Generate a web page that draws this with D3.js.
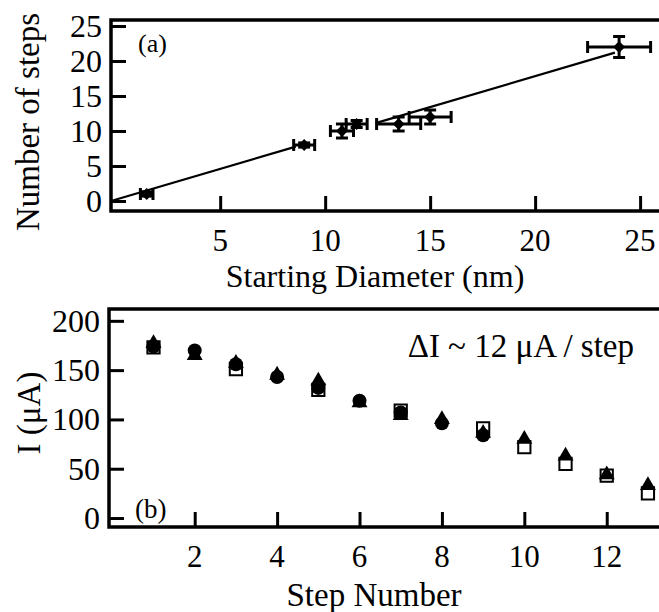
<!DOCTYPE html>
<html>
<head>
<meta charset="utf-8">
<script src="https://cdn.jsdelivr.net/npm/d3@7"></script>
<style>
  body { margin: 0; background: #fff; }
  svg { display: block; }
  text { font-family: "Liberation Serif", "Times New Roman", serif; fill: #000; }
</style>
</head>
<body>
<div id="container"></div>
<script>
const width = 659;
const height = 612;

// panel (a): number of steps vs starting diameter
const diameters   = [1.5, 9.0, 10.8, 11.5, 13.5, 15.0, 24.0];
const steps       = [1, 8, 10, 11, 11, 12, 22];
const diameterErr = [0.3, 0.5, 0.55, 0.5, 1.05, 1.0, 1.5];
const stepsErr    = [0.3, 0.3, 1.0, 0.5, 1.0, 1.0, 1.5];
// linear fit, drawn in two pieces as in the figure
const fitSlope = 0.883;
const fitIntercept = 0.18;
const fitPieces = [[-0.2, 8.6], [12.4, 23.8]];
const ticksA_x = [5, 10, 15, 20, 25];
const ticksA_y = [0, 5, 10, 15, 20, 25];

// panel (b): current vs step number, three runs
const stepNumbers = [1, 2, 3, 4, 5, 6, 7, 8, 9, 10, 11, 12, 13];
const runSquares   = [173, null, 151, null, 130, null, 109, null, 91, 72, 55, 43, 25];
const runCircles   = [174, 170, 156, 143, 132, 119, 107, 96, 84, null, null, null, null];
const runTriangles = [177, 165, 157, 145, 139, 117, 104, 100, 86, 80, 63, 44, 33];
const ticksB_x = [2, 4, 6, 8, 10, 12];
const ticksB_y = [0, 50, 100, 150, 200];

const svg = d3.select("#container")
  .append("svg")
  .attr("width", width)
  .attr("height", height);

// scales
const xA = d3.scaleLinear().domain([-0.2, 25.9]).range([111, 659]);
const yA = d3.scaleLinear().domain([-1.43, 25.86]).range([211, 20]);
const xB = d3.scaleLinear().domain([-0.08, 13.22]).range([109, 657]);
const yB = d3.scaleLinear().domain([-9.1, 212]).range([527, 309]);

const tickLen = 15;

function drawFrame(x, y, xt, yt, labelY) {
  const g = svg.append("g");
  const [x0, x1] = x.range();
  const [y0, y1] = y.range();
  // x axis ticks pointing inward
  g.append("g")
    .attr("transform", "translate(0," + y0 + ")")
    .call(d3.axisBottom(x).tickValues(xt).tickSize(-tickLen).tickPadding(0).tickFormat(""))
    .call(a => a.select(".domain").remove())
    .selectAll("line").attr("stroke-width", 3);
  g.selectAll(".xlab")
    .data(xt)
    .enter()
    .append("text")
    .attr("x", d => x(d))
    .attr("y", labelY)
    .attr("text-anchor", "middle")
    .style("font-size", "31px")
    .text(d => d);
  // y axis
  g.append("g")
    .attr("transform", "translate(" + x0 + ",0)")
    .call(d3.axisLeft(y).tickValues(yt).tickSize(-tickLen).tickPadding(0).tickFormat(""))
    .call(a => a.select(".domain").remove())
    .selectAll("line").attr("stroke-width", 3);
  g.selectAll(".ylab")
    .data(yt)
    .enter()
    .append("text")
    .attr("x", x0 - 9)
    .attr("y", d => y(d))
    .attr("dy", "0.34em")
    .attr("text-anchor", "end")
    .style("font-size", "32px")
    .text(d => d);
  // box
  g.append("rect")
    .attr("x", x0)
    .attr("y", y1)
    .attr("width", x1 - x0 + 4)
    .attr("height", y0 - y1)
    .attr("fill", "none")
    .attr("stroke", "#000")
    .attr("stroke-width", 3.5);
}

// ---- panel (a)
drawFrame(xA, yA, ticksA_x, ticksA_y, 251);

const line = d3.line().x(d => xA(d)).y(d => yA(fitSlope * d + fitIntercept));
svg.selectAll(".fit")
  .data(fitPieces)
  .enter()
  .append("path")
  .attr("d", d => line(d))
  .attr("fill", "none")
  .attr("stroke", "#000")
  .attr("stroke-width", 2.2);

const ptsA = diameters.map((d, i) => ({x: d, y: steps[i], ex: diameterErr[i], ey: stepsErr[i]}));
const errA = svg.append("g").attr("stroke", "#000").attr("stroke-width", 3);
const capH = 6;
ptsA.forEach(p => {
  const cx = xA(p.x), cy = yA(p.y);
  const xl = xA(p.x - p.ex), xr = xA(p.x + p.ex);
  const yt = yA(p.y + p.ey), yb = yA(p.y - p.ey);
  errA.append("line").attr("x1", xl).attr("x2", xr).attr("y1", cy).attr("y2", cy);
  errA.append("line").attr("x1", xl).attr("x2", xl).attr("y1", cy - capH).attr("y2", cy + capH);
  errA.append("line").attr("x1", xr).attr("x2", xr).attr("y1", cy - capH).attr("y2", cy + capH);
  errA.append("line").attr("x1", cx).attr("x2", cx).attr("y1", yt).attr("y2", yb);
  errA.append("line").attr("x1", cx - capH).attr("x2", cx + capH).attr("y1", yt).attr("y2", yt);
  errA.append("line").attr("x1", cx - capH).attr("x2", cx + capH).attr("y1", yb).attr("y2", yb);
});
svg.selectAll(".diamond")
  .data(ptsA)
  .enter()
  .append("path")
  .attr("d", d3.symbol().type(d3.symbolSquare).size(70))
  .attr("transform", d => "translate(" + xA(d.x) + "," + yA(d.y) + ") rotate(45)")
  .attr("fill", "#000");

svg.append("text")
  .attr("x", 138).attr("y", 52)
  .style("font-size", "26px")
  .text("(a)");

svg.append("text")
  .attr("x", 375).attr("y", 287)
  .attr("text-anchor", "middle")
  .style("font-size", "32px")
  .text("Starting Diameter (nm)");

svg.append("text")
  .attr("transform", "translate(39,122) rotate(-90)")
  .attr("text-anchor", "middle")
  .style("font-size", "33px")
  .text("Number of steps");

// ---- panel (b)
drawFrame(xB, yB, ticksB_x, ticksB_y, 567);

function series(vals) {
  return stepNumbers.map((s, i) => ({x: s, y: vals[i]})).filter(d => d.y !== null);
}

svg.selectAll(".sq")
  .data(series(runSquares))
  .enter()
  .append("path")
  .attr("d", d3.symbol().type(d3.symbolSquare).size(150))
  .attr("transform", d => "translate(" + xB(d.x) + "," + yB(d.y) + ")")
  .attr("fill", "#fff")
  .attr("stroke", "#000")
  .attr("stroke-width", 2);

svg.selectAll(".circ")
  .data(series(runCircles))
  .enter()
  .append("circle")
  .attr("cx", d => xB(d.x))
  .attr("cy", d => yB(d.y))
  .attr("r", 7)
  .attr("fill", "#000");

svg.selectAll(".tri")
  .data(series(runTriangles))
  .enter()
  .append("path")
  .attr("d", d3.symbol().type(d3.symbolTriangle).size(110))
  .attr("transform", d => "translate(" + xB(d.x) + "," + yB(d.y) + ")")
  .attr("fill", "#000");

svg.append("text")
  .attr("x", 634).attr("y", 357)
  .attr("text-anchor", "end")
  .style("font-size", "33px")
  .text("ΔI ~ 12 μA / step");

svg.append("text")
  .attr("x", 135).attr("y", 518)
  .style("font-size", "27px")
  .text("(b)");

svg.append("text")
  .attr("x", 374).attr("y", 606)
  .attr("text-anchor", "middle")
  .style("font-size", "33px")
  .text("Step Number");

svg.append("text")
  .attr("transform", "translate(40,413) rotate(-90)")
  .attr("text-anchor", "middle")
  .style("font-size", "33px")
  .text("I (μA)");
</script>
</body>
</html>
